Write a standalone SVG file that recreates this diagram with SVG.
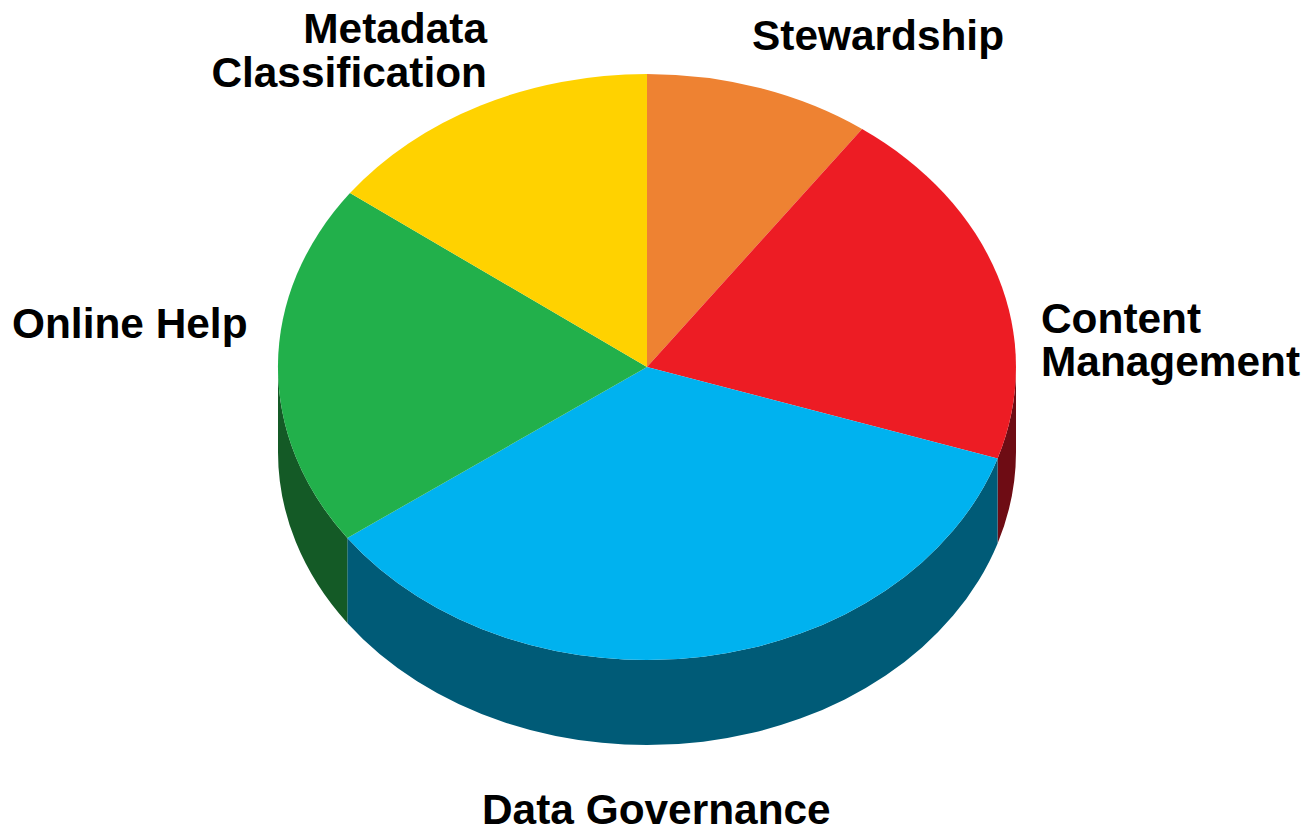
<svg xmlns="http://www.w3.org/2000/svg" width="1306" height="832" viewBox="0 0 1306 832">
<style>
.lbl{font-family:"Liberation Sans",Arial,sans-serif;font-weight:bold;font-size:42.4px;fill:#000}
</style>
<rect width="1306" height="832" fill="#fff"/>
<g id="sides">
<path id="side-red" d="M1016 367 A369 293 0 0 1 997.6 458.4 L997.6 543.4 A369 293 0 0 0 1016 452 Z" fill="#6E0C14"/>
<path id="side-blue" d="M997.6 458.4 A369 293 0 0 1 347.3 538 L347.3 623 A369 293 0 0 0 997.6 543.4 Z" fill="#005B77"/>
<path id="side-green" d="M347.3 538 A369 293 0 0 1 278 367 L278 452 A369 293 0 0 0 347.3 623 Z" fill="#145A26"/>
</g>
<g id="slice-stewardship"><path d="M647 367 L647 74 A369 293 0 0 1 862.1 129 Z" fill="#EE8232"/></g>
<g id="slice-content"><path d="M647 367 L862.1 129 A369 293 0 0 1 997.6 458.4 Z" fill="#ED1C24"/></g>
<g id="slice-governance"><path d="M647 367 L997.6 458.4 A369 293 0 0 1 347.3 538 Z" fill="#00B2EF"/></g>
<g id="slice-help"><path d="M647 367 L347.3 538 A369 293 0 0 1 350 193.1 Z" fill="#22B04B"/></g>
<g id="slice-metadata"><path d="M647 367 L350 193.1 A369 293 0 0 1 647 74 Z" fill="#FFD200"/></g>
<g id="labels">
<text class="lbl" x="487" y="43" text-anchor="end">Metadata</text>
<text class="lbl" x="487" y="87" text-anchor="end">Classification</text>
<text class="lbl" x="752" y="50">Stewardship</text>
<text class="lbl" x="12" y="338">Online Help</text>
<text class="lbl" x="1041" y="333">Content</text>
<text class="lbl" x="1041" y="376">Management</text>
<text class="lbl" x="482" y="824">Data Governance</text>
</g>
</svg>
